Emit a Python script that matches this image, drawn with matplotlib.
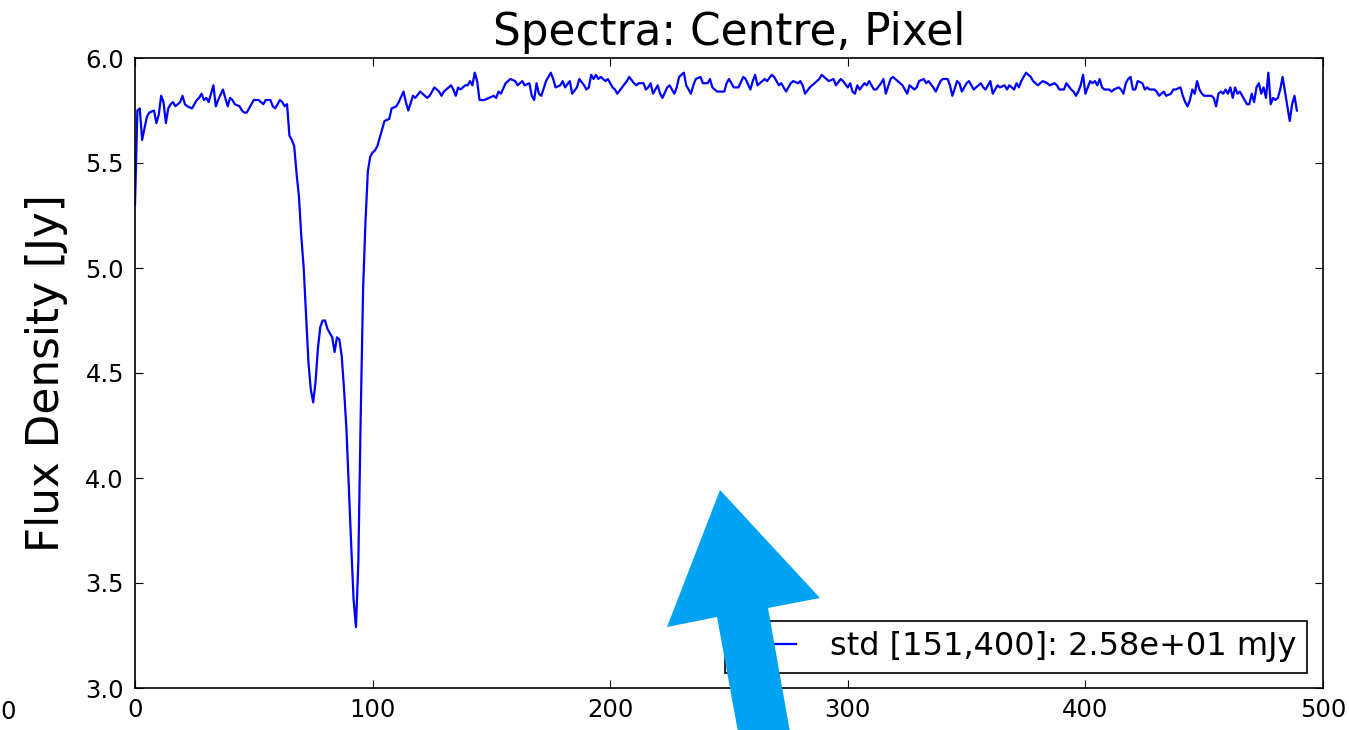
import matplotlib
matplotlib.use("Agg")
import matplotlib.pyplot as plt
from matplotlib.patches import Polygon

# ---------------- data ----------------
chan = [0, 1, 2, 3, 5, 6, 8, 9, 10, 11, 12, 13, 14, 15, 16, 17, 18, 19, 20, 21,
        22, 24, 25, 26, 27, 28, 29, 30, 31, 33, 34, 35, 37, 38, 39, 40, 41, 42, 44, 45,
        46, 47, 48, 49, 50, 52, 53, 54, 55, 56, 57, 58, 59, 61, 62, 63, 64,
        65, 66, 67, 68, 69, 70, 71, 72, 73, 74, 75, 76, 77, 78, 79, 80, 81, 82, 83,
        84, 85, 86, 87, 88, 89, 90, 91, 92, 93, 94, 95, 96, 97, 98, 99, 100, 101, 102,
        103, 104, 105, 107, 108, 110, 111, 113, 114, 115, 117, 118, 120, 121, 123,
        124, 126, 128, 129, 130, 133, 134, 135, 136, 137, 139, 140, 141, 142, 143, 144,
        145, 147, 149, 151, 152, 153, 154, 156, 157, 158, 160, 161, 163, 164, 166, 167,
        168, 169, 170, 171, 173, 175, 176, 177, 179, 180, 181, 183, 184, 186, 187, 189,
        190, 191, 192, 193, 194, 195, 196, 198, 199, 201, 202, 203, 205, 207, 208, 210,
        211, 212, 214, 215, 216, 217, 218, 220, 221, 222, 224, 225, 227, 228, 229, 231,
        232, 234, 235, 236, 238, 239, 241, 242, 243, 245, 246, 248, 249, 250, 252, 254,
        256, 257, 259, 260, 261, 262, 264, 265, 266, 268, 269, 271, 272, 274, 275, 276,
        277, 279, 280, 281, 282, 284, 285, 287, 288, 289, 291, 292, 294, 295, 297, 298,
        300, 301, 302, 303, 304, 305, 307, 308, 309, 311, 312, 314, 315, 316, 318, 319,
        321, 322, 323, 325, 326, 328, 329, 330, 332, 333, 334, 336, 337, 339, 340, 342,
        343, 344, 346, 347, 348, 350, 351, 353, 354, 356, 357, 358, 360, 361, 363, 364,
        366, 367, 368, 370, 371, 372, 373, 375, 377, 378, 380, 381, 382, 384, 385, 387,
        388, 389, 391, 392, 394, 395, 396, 397, 398, 399, 400, 401, 402, 403, 404, 405,
        406, 407, 408, 410, 411, 412, 414, 415, 416, 417, 418, 419, 420, 421, 422, 424,
        425, 426, 427, 429, 430, 431, 432, 433, 434, 436, 437, 438, 440, 441, 442, 443,
        444, 445, 446, 447, 448, 449, 450, 452, 453, 454, 455, 456, 457, 458, 459, 460,
        461, 462, 463, 464, 465, 466, 467, 468, 469, 470, 471, 472, 473, 474, 475, 476,
        477, 478, 479, 480, 481, 482, 483, 484, 485, 486, 487, 488, 489]

flux = [5.30, 5.75, 5.76, 5.61, 5.72, 5.74, 5.75, 5.69, 5.73, 5.82, 5.79, 5.69, 5.76, 5.78, 5.79, 5.77, 5.78, 5.79, 5.82, 5.78,
        5.77, 5.76, 5.78, 5.80, 5.81, 5.83, 5.80, 5.81, 5.79, 5.87, 5.77, 5.80, 5.85, 5.81, 5.77, 5.81, 5.80, 5.78, 5.77, 5.75,
        5.74, 5.74, 5.76, 5.78, 5.80, 5.80, 5.79, 5.78, 5.80, 5.80, 5.80, 5.77, 5.76, 5.80, 5.79, 5.77, 5.78,
        5.63, 5.61, 5.58, 5.45, 5.34, 5.15, 5.00, 4.78, 4.55, 4.42, 4.36, 4.46, 4.62, 4.72, 4.75, 4.75, 4.71, 4.69, 4.67,
        4.60, 4.67, 4.66, 4.58, 4.42, 4.23, 3.95, 3.68, 3.42, 3.29, 3.60, 4.30, 4.90, 5.22, 5.46, 5.53, 5.55, 5.56, 5.58,
        5.62, 5.66, 5.70, 5.71, 5.76, 5.77, 5.79, 5.84, 5.79, 5.75, 5.82, 5.81, 5.84, 5.83, 5.81,
        5.82, 5.86, 5.84, 5.82, 5.84, 5.87, 5.85, 5.82, 5.86, 5.85, 5.87, 5.87, 5.89, 5.87, 5.93, 5.89,
        5.80, 5.80, 5.81, 5.82, 5.81, 5.84, 5.83, 5.88, 5.89, 5.90, 5.89, 5.87, 5.89, 5.87, 5.88, 5.82,
        5.80, 5.88, 5.83, 5.82, 5.89, 5.93, 5.90, 5.86, 5.87, 5.89, 5.86, 5.89, 5.83, 5.86, 5.90, 5.87,
        5.85, 5.86, 5.92, 5.90, 5.92, 5.90, 5.91, 5.89, 5.90, 5.86, 5.85, 5.83, 5.86, 5.89, 5.91, 5.88,
        5.87, 5.88, 5.88, 5.85, 5.86, 5.88, 5.83, 5.87, 5.83, 5.81, 5.86, 5.87, 5.83, 5.86, 5.91, 5.93,
        5.87, 5.83, 5.87, 5.90, 5.91, 5.88, 5.88, 5.90, 5.86, 5.84, 5.84, 5.84, 5.88, 5.90, 5.86, 5.86,
        5.91, 5.90, 5.85, 5.89, 5.92, 5.87, 5.89, 5.90, 5.89, 5.92, 5.91, 5.87, 5.88, 5.84, 5.86, 5.88,
        5.89, 5.88, 5.89, 5.87, 5.83, 5.86, 5.87, 5.89, 5.90, 5.92, 5.90, 5.89, 5.90, 5.87, 5.90, 5.89,
        5.86, 5.88, 5.84, 5.83, 5.87, 5.85, 5.88, 5.87, 5.89, 5.85, 5.85, 5.88, 5.90, 5.83, 5.90, 5.91,
        5.89, 5.88, 5.87, 5.83, 5.87, 5.85, 5.86, 5.89, 5.90, 5.88, 5.89, 5.86, 5.84, 5.89, 5.90, 5.90,
        5.87, 5.82, 5.89, 5.88, 5.84, 5.88, 5.89, 5.85, 5.86, 5.88, 5.86, 5.85, 5.89, 5.83, 5.87, 5.86,
        5.87, 5.85, 5.87, 5.85, 5.88, 5.86, 5.89, 5.93, 5.91, 5.89, 5.87, 5.88, 5.89, 5.88, 5.87, 5.88,
        5.87, 5.85, 5.85, 5.88, 5.85, 5.84, 5.82, 5.84, 5.87, 5.92, 5.83, 5.86, 5.89, 5.88, 5.89, 5.87,
        5.90, 5.86, 5.85, 5.85, 5.84, 5.85, 5.86, 5.85, 5.83, 5.88, 5.90, 5.91, 5.85, 5.85, 5.89, 5.88,
        5.85, 5.86, 5.85, 5.85, 5.84, 5.82, 5.83, 5.84, 5.82, 5.83, 5.85, 5.85, 5.86, 5.82, 5.79, 5.77,
        5.80, 5.85, 5.83, 5.89, 5.85, 5.83, 5.82, 5.82, 5.82, 5.81, 5.77, 5.83, 5.84, 5.83, 5.85, 5.83,
        5.86, 5.81, 5.86, 5.83, 5.84, 5.82, 5.80, 5.78, 5.78, 5.83, 5.79, 5.86, 5.88, 5.83, 5.86, 5.81,
        5.93, 5.78, 5.81, 5.80, 5.81, 5.85, 5.91, 5.84, 5.77, 5.70, 5.78, 5.82, 5.75]

series_label = "std [151,400]: 2.58e+01 mJy"
title_text = "Spectra: Centre, Pixel"
ylabel_text = "Flux Density [Jy]"
xticks = [0, 100, 200, 300, 400, 500]
yticks = [3.0, 3.5, 4.0, 4.5, 5.0, 5.5, 6.0]

# ---------------- figure ----------------
W, H = 1349, 730
fig = plt.figure(figsize=(W / 100, H / 100), dpi=100, facecolor="white")
L, R, B, T = 135, 1323, 688, 58
ax = fig.add_axes([L / W, 1 - B / H, (R - L) / W, (B - T) / H])

ax.plot(chan, flux, color="#0000ff", lw=1.6, label=series_label)
ax.set_xlim(0, 500)
ax.set_ylim(3.0, 6.0)
ax.set_xticks(xticks)
ax.set_yticks(yticks)
ax.set_yticklabels([f"{v:.1f}" for v in yticks])
ax.tick_params(direction="in", top=True, right=True, length=6, width=0.8,
               labelsize=17.5, colors="black")
ax.tick_params(axis="x", pad=7)
ax.tick_params(axis="y", pad=8)
for s in ax.spines.values():
    s.set_linewidth(1.2)
    s.set_color("black")

ax.set_title(title_text, fontsize=31.5, pad=9)
ax.set_ylabel(ylabel_text, fontsize=31.5, labelpad=12)

leg = ax.legend(loc="lower right",
                bbox_to_anchor=((1307 - L) / (R - L), (B - 673) / (B - T)),
                borderaxespad=0, fontsize=23, frameon=True, fancybox=False,
                framealpha=1, edgecolor="black", borderpad=0.33,
                handlelength=1.9, handletextpad=1.05)
leg.get_frame().set_linewidth(1.2)

# stray tick label at the far left (neighbouring panel)
fig.text(8 / W, 1 - 712 / H, "0", fontsize=17.5, ha="center", va="center")

# big overlay arrow (pixel coordinates, top-left origin -> figure fraction)
arrow_px = [(720, 490), (820, 598), (768, 608), (790, 732), (738, 732),
            (717, 617), (667, 627)]
arrow = Polygon([(x / W, 1 - y / H) for x, y in arrow_px], closed=True,
                transform=fig.transFigure, facecolor="#00a2f2",
                edgecolor="none", zorder=10)
fig.patches.append(arrow)

fig.savefig("out.png", dpi=100, facecolor="white")
